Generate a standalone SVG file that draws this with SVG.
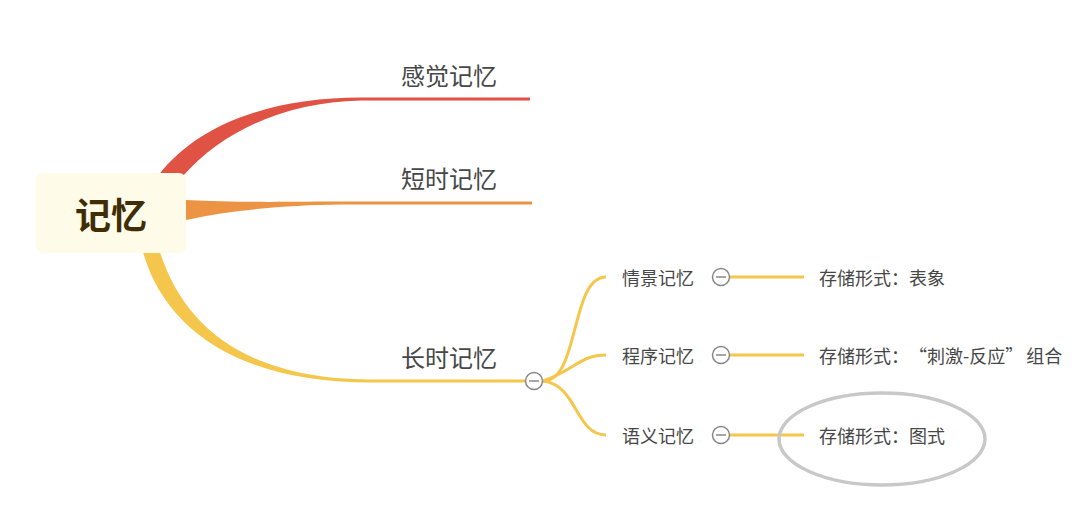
<svg xmlns="http://www.w3.org/2000/svg" width="1080" height="510" viewBox="0 0 1080 510">
<style>
.t{font-family:"Noto Sans CJK SC","Noto Sans",sans-serif;fill:#474747;dominant-baseline:central}
.l1{font-size:24px}
.l2{font-size:18px}
.sub{fill:none;stroke:#f5c64c;stroke-width:3}
.tog{fill:#fff;stroke:#888;stroke-width:1.5}
</style>
<rect width="1080" height="510" fill="#fff"/>
<g id="connectors">
<path d="M158,176 C 200,120 280,97.5 360,97.5 L530,97.5 L530,100.5 L360,100.5 C 290,102 225,128 183,176 Z" fill="#e05244"/>
<path d="M186,200 C 240,203 300,201.5 340,201.5 L532,201.5 L532,204.5 L340,204.5 C 290,205 230,210 186,220 Z" fill="#ec9444"/>
<path d="M143,252 C 165,330 240,382.5 370,382.5 L525,382.5 L525,379.5 L370,379.5 C 250,379 185,330 160,252 Z" fill="#f5c64c"/>
<path class="sub" d="M543,381 C 580,381 570,277 606,277"/>
<path class="sub" d="M543,381 C 575,370 580,355 606,355"/>
<path class="sub" d="M543,381 C 578,385 575,435 606,435"/>
<path class="sub" d="M730,277 H804 M730,355 H804 M730,435 H804"/>
</g>
<g id="root">
<rect x="36" y="173" width="150" height="80" rx="7" fill="#fefbe8"/>
<text x="111" y="213" text-anchor="middle" style="font-family:'Noto Sans CJK SC',sans-serif;font-size:36px;font-weight:bold;fill:#3f2d05;dominant-baseline:central">记忆</text>
</g>
<g id="n-sensory"><text class="t l1" x="449" y="74" text-anchor="middle">感觉记忆</text></g>
<g id="n-short"><text class="t l1" x="449" y="177" text-anchor="middle">短时记忆</text></g>
<g id="n-long"><text class="t l1" x="449" y="356" text-anchor="middle">长时记忆</text>
<circle class="tog" cx="534" cy="381" r="8.5"/><path d="M529,381 H539" stroke="#888" stroke-width="1.5"/></g>
<g id="n-episodic"><text class="t l2" x="622" y="277">情景记忆</text>
<circle class="tog" cx="721" cy="277" r="8.5"/><path d="M716,277 H726" stroke="#888" stroke-width="1.5"/></g>
<g id="n-procedural"><text class="t l2" x="622" y="355">程序记忆</text>
<circle class="tog" cx="721" cy="355" r="8.5"/><path d="M716,355 H726" stroke="#888" stroke-width="1.5"/></g>
<g id="n-semantic"><text class="t l2" x="622" y="435">语义记忆</text>
<circle class="tog" cx="721" cy="435" r="8.5"/><path d="M716,435 H726" stroke="#888" stroke-width="1.5"/></g>
<g id="n-ep-form"><text class="t l2" x="819" y="277">存储形式：表象</text></g>
<g id="n-pr-form"><text class="t l2" x="819" y="355">存储形式：<tspan dx="9">“刺激-反应”</tspan><tspan dx="3">组合</tspan></text></g>
<g id="n-se-form"><text class="t l2" x="819" y="435">存储形式：图式</text>
<ellipse cx="882" cy="439" rx="103" ry="46" fill="none" stroke="#c8c8c8" stroke-width="3.5"/></g>
</svg>
